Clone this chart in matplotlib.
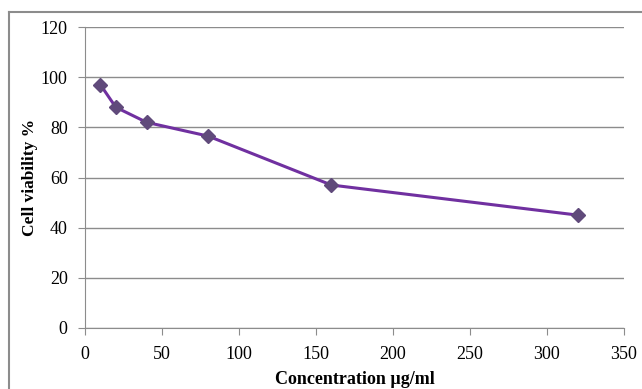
import matplotlib.pyplot as plt
from matplotlib.lines import Line2D

# concentration (ug/ml) vs. cell viability (%)
conc = [10, 20, 40, 80, 160, 320]
viability = [97, 88, 82, 76.5, 57, 45]
x_ticks = [0, 50, 100, 150, 200, 250, 300, 350]
y_ticks = [0, 20, 40, 60, 80, 100, 120]

plt.rcParams['font.family'] = ['Liberation Serif', 'DejaVu Serif']

fig = plt.figure(figsize=(6.42, 3.89), dpi=100)
ax = fig.add_axes([85 / 642, 1 - 328 / 389, (624 - 85) / 642, (328 - 27) / 389])

ax.plot(conc, viability, color='#7030A0', lw=2.2, marker='D', markersize=7.5,
        markerfacecolor='#604A7B', markeredgecolor='#604A7B', zorder=3)

ax.set_xlim(0, 350)
ax.set_ylim(0, 120)
ax.set_xticks(x_ticks)
ax.set_yticks(y_ticks)
ax.yaxis.grid(True, color='#8c8c8c', lw=1)
ax.set_axisbelow(True)

for s in ['top', 'right']:
    ax.spines[s].set_visible(False)
for s in ['left', 'bottom']:
    ax.spines[s].set_color('#8c8c8c')
ax.tick_params(colors='#8c8c8c', labelcolor='black', labelsize=13,
               length=5, direction='out')
ax.tick_params(axis='x', pad=8)
ax.tick_params(axis='y', pad=7.5)

ax.set_xlabel('Concentration µg/ml', fontsize=13, fontweight='bold', labelpad=6)
ax.set_ylabel('Cell viability %', fontsize=12.5, fontweight='bold', labelpad=2)

# outer chart frame (only top and left visible in the crop)
fig.add_artist(Line2D([9 / 642, 9 / 642], [0, 1 - 12 / 389], color='#8c8c8c', lw=1.5))
fig.add_artist(Line2D([9 / 642, 1], [1 - 12 / 389, 1 - 12 / 389], color='#8c8c8c', lw=1.5))

fig.savefig('out.png', dpi=100)
